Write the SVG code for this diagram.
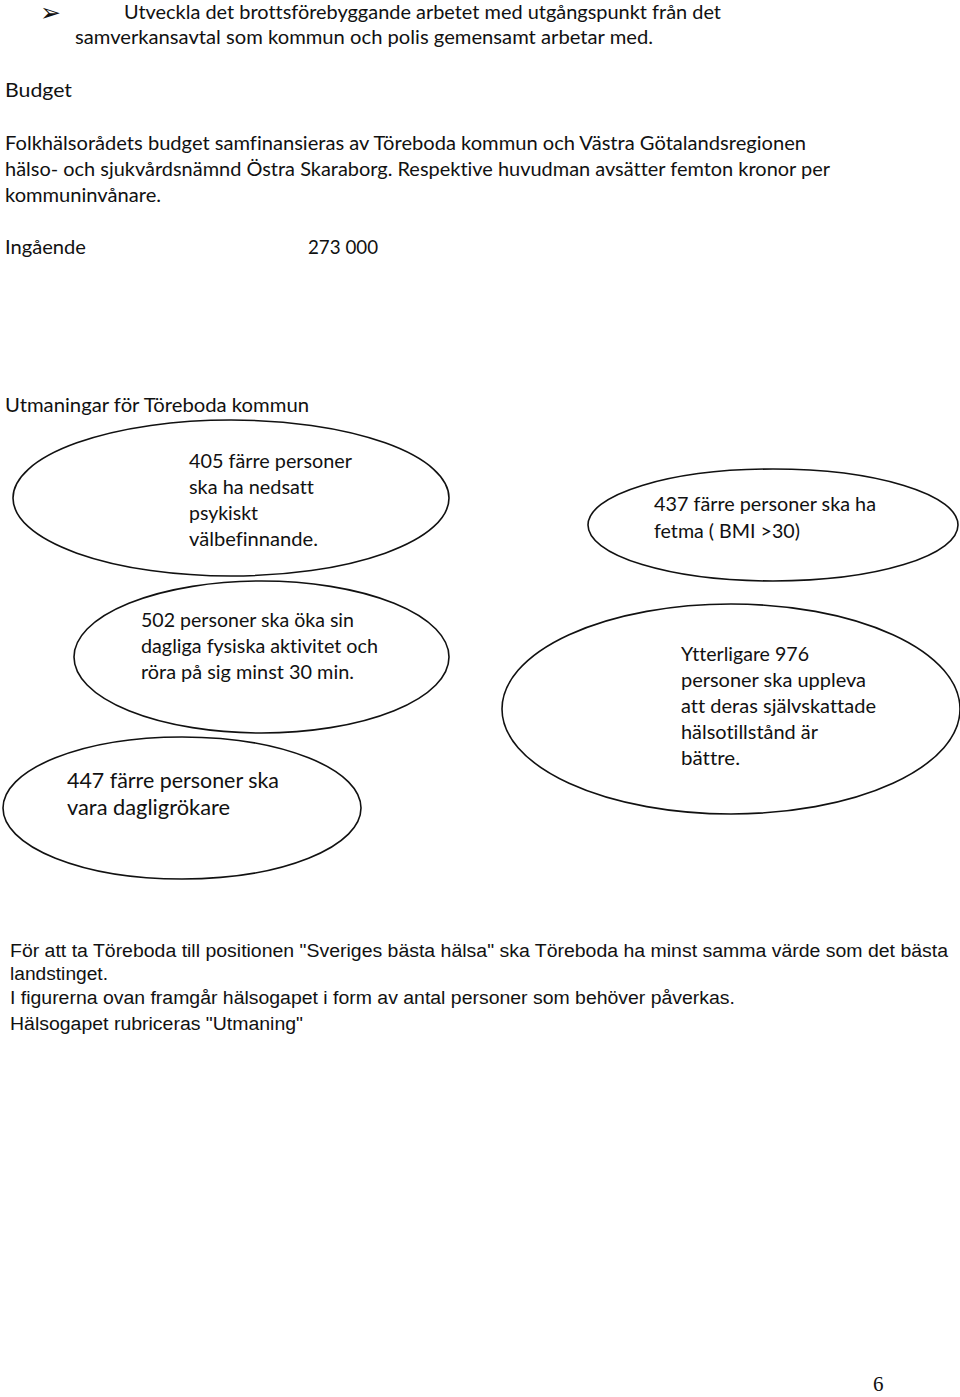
<svg xmlns="http://www.w3.org/2000/svg" width="960" height="1397" viewBox="0 0 960 1397">
<style>
.c{font-family:"Lato","Open Sans","Noto Sans",sans-serif;font-size:19.5px;fill:#111;font-variant-ligatures:none}
.a{font-family:"Liberation Sans",Arial,sans-serif;font-size:18px;fill:#111}
.e{fill:#fff;stroke:#111;stroke-width:1.6}
</style>
<rect width="960" height="1397" fill="#fff"/>
<g id="intro">
<text x="40" y="21" style="font-family:'DejaVu Sans',sans-serif;font-size:25px;fill:#111">➢</text>
<text class="c" x="124" y="19" textLength="597" lengthAdjust="spacingAndGlyphs">Utveckla det brottsförebyggande arbetet med utgångspunkt från det</text>
<text class="c" x="75" y="44" textLength="578" lengthAdjust="spacingAndGlyphs">samverkansavtal som kommun och polis gemensamt arbetar med.</text>
<text class="c" x="5" y="97" textLength="67" lengthAdjust="spacingAndGlyphs">Budget</text>
<text class="c" x="5" y="150" textLength="801" lengthAdjust="spacingAndGlyphs">Folkhälsorådets budget samfinansieras av Töreboda kommun och Västra Götalandsregionen</text>
<text class="c" x="5" y="176" textLength="825" lengthAdjust="spacingAndGlyphs">hälso- och sjukvårdsnämnd Östra Skaraborg. Respektive huvudman avsätter femton kronor per</text>
<text class="c" x="5" y="202" textLength="156" lengthAdjust="spacingAndGlyphs">kommuninvånare.</text>
<text class="c" x="5" y="254" textLength="81" lengthAdjust="spacingAndGlyphs">Ingående</text>
<text class="c" x="308" y="254" textLength="70" lengthAdjust="spacingAndGlyphs">273 000</text>
<text class="c" x="5" y="412" textLength="304" lengthAdjust="spacingAndGlyphs">Utmaningar för Töreboda kommun</text>
</g>
<g id="n405">
<ellipse class="e" cx="231" cy="498" rx="218" ry="78"/>
<text class="c" x="189" y="468" textLength="163" lengthAdjust="spacingAndGlyphs">405 färre personer</text>
<text class="c" x="189" y="494" textLength="125" lengthAdjust="spacingAndGlyphs">ska ha nedsatt</text>
<text class="c" x="189" y="520" textLength="69" lengthAdjust="spacingAndGlyphs">psykiskt</text>
<text class="c" x="189" y="546" textLength="129" lengthAdjust="spacingAndGlyphs">välbefinnande.</text>
</g>
<g id="n437">
<ellipse class="e" cx="773" cy="525" rx="185" ry="56"/>
<text class="c" x="654" y="511" textLength="222" lengthAdjust="spacingAndGlyphs">437 färre personer ska ha</text>
<text class="c" x="654" y="538" textLength="146" lengthAdjust="spacingAndGlyphs">fetma ( BMI &gt;30)</text>
</g>
<g id="n502">
<ellipse class="e" cx="261.5" cy="657" rx="187.5" ry="76"/>
<text class="c" x="141" y="627" textLength="213" lengthAdjust="spacingAndGlyphs">502 personer ska öka sin</text>
<text class="c" x="141" y="653" textLength="237" lengthAdjust="spacingAndGlyphs">dagliga fysiska aktivitet och</text>
<text class="c" x="141" y="679" textLength="213" lengthAdjust="spacingAndGlyphs">röra på sig minst 30 min.</text>
</g>
<g id="n447">
<ellipse class="e" cx="182" cy="808" rx="179" ry="71"/>
<text class="c" x="67" y="788" style="font-size:21.5px" textLength="212" lengthAdjust="spacingAndGlyphs">447 färre personer ska</text>
<text class="c" x="67" y="815" style="font-size:21.5px" textLength="163" lengthAdjust="spacingAndGlyphs">vara dagligrökare</text>
</g>
<g id="n976">
<ellipse class="e" cx="731" cy="709" rx="229" ry="105"/>
<text class="c" x="681" y="661" textLength="128" lengthAdjust="spacingAndGlyphs">Ytterligare 976</text>
<text class="c" x="681" y="687" textLength="185" lengthAdjust="spacingAndGlyphs">personer ska uppleva</text>
<text class="c" x="681" y="713" textLength="195" lengthAdjust="spacingAndGlyphs">att deras självskattade</text>
<text class="c" x="681" y="739" textLength="137" lengthAdjust="spacingAndGlyphs">hälsotillstånd är</text>
<text class="c" x="681" y="765" textLength="59" lengthAdjust="spacingAndGlyphs">bättre.</text>
</g>
<g id="summary">
<text class="a" x="10" y="957" textLength="938" lengthAdjust="spacingAndGlyphs">För att ta Töreboda till positionen "Sveriges bästa hälsa" ska Töreboda ha minst samma värde som det bästa</text>
<text class="a" x="10" y="980" textLength="98" lengthAdjust="spacingAndGlyphs">landstinget.</text>
<text class="a" x="10" y="1004" textLength="725" lengthAdjust="spacingAndGlyphs">I figurerna ovan framgår hälsogapet i form av antal personer som behöver påverkas.</text>
<text class="a" x="10" y="1030" textLength="293" lengthAdjust="spacingAndGlyphs">Hälsogapet rubriceras "Utmaning"</text>
</g>
<text x="873" y="1391" style="font-family:'Liberation Serif','Times New Roman',serif;font-size:21px;fill:#111">6</text>
</svg>
